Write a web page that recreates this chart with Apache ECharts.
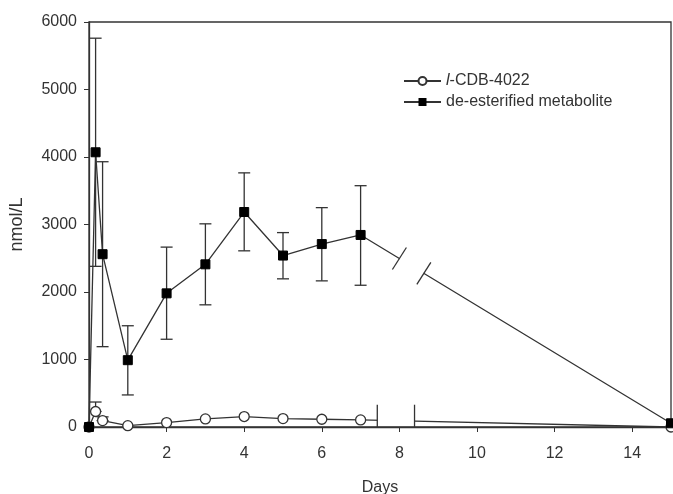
<!DOCTYPE html>
<html>
<head>
<meta charset="utf-8">
<script src="https://cdn.jsdelivr.net/npm/echarts@6/dist/echarts.min.js"></script>
<style>
  html, body { margin: 0; padding: 0; background: #fff; }
  #chart { width: 673px; height: 494px; }
</style>
</head>
<body>
<div id="chart"></div>
<script>
// sampling times (days)
const days = [0, 0.17, 0.35, 1, 2, 3, 4, 5, 6, 7, 15];

// de-esterified metabolite (nmol/L), mean and error bar ends
const metab   = [0, 4070, 2560, 990, 1980, 2410, 3185, 2540, 2710, 2845, 55];
const metabHi = [null, 5760, 3930, 1500, 2665, 3010, 3765, 2880, 3250, 3575, null];
const metabLo = [null, 2380, 1190, 475, 1300, 1810, 2610, 2195, 2165, 2100, null];

// l-CDB-4022 (nmol/L)
const parent   = [0, 230, 95, 20, 65, 120, 155, 125, 115, 105, 0];
const parentHi = [null, 370, 150, null, null, null, null, null, null, null, null];

const xTicks = [0, 2, 4, 6, 8, 10, 12, 14];

// axis break positions (days) drawn on the 7 -> 15 segment
const breakMetab = [8.0, 8.63];
const breakParent = [7.43, 8.39];

const parentName = 'l-CDB-4022';
const metabName = 'de-esterified metabolite';
const ink = '#333';
const font = 'Liberation Sans, Arial, sans-serif';

function pairs(ys) {
    return days.map(function (d, i) { return [d, ys[i]]; });
}
function errData(lo, hi, mid) {
    const out = [];
    days.forEach(function (d, i) {
        if (hi[i] != null) {
            out.push([d, lo ? (lo[i] != null ? lo[i] : mid[i]) : mid[i], hi[i]]);
        }
    });
    return out;
}

function renderErr(params, api) {
    const x = api.value(0);
    const lo = api.coord([x, api.value(1)]);
    const hi = api.coord([x, api.value(2)]);
    const cap = 6;
    const st = { stroke: ink, lineWidth: 1.3 };
    return {
        type: 'group',
        children: [
            { type: 'line', shape: { x1: lo[0], y1: lo[1], x2: hi[0], y2: hi[1] }, style: st },
            { type: 'line', shape: { x1: hi[0] - cap, y1: hi[1], x2: hi[0] + cap, y2: hi[1] }, style: st },
            { type: 'line', shape: { x1: lo[0] - cap, y1: lo[1], x2: lo[0] + cap, y2: lo[1] }, style: st }
        ]
    };
}

// point on the 7 -> 15 segment of a series at day d
function onSeg(ys, d) {
    const i = days.length - 2, j = days.length - 1;
    const t = (d - days[i]) / (days[j] - days[i]);
    return [d, ys[i] + (ys[j] - ys[i]) * t];
}

function renderBreaks(params, api) {
    const st = { stroke: ink, lineWidth: 1.3 };
    const children = [];
    // metabolite line: gap + slashes
    const a = api.coord(onSeg(metab, breakMetab[0]));
    const b = api.coord(onSeg(metab, breakMetab[1]));
    children.push({ type: 'rect', shape: { x: a[0], y: a[1] - 4, width: b[0] - a[0], height: b[1] - a[1] + 8 }, style: { fill: '#fff' } });
    [a, b].forEach(function (p) {
        children.push({ type: 'line', shape: { x1: p[0] - 7, y1: p[1] + 11, x2: p[0] + 7, y2: p[1] - 11 }, style: st });
    });
    // parent line: gap + vertical bars
    const c = api.coord(onSeg(parent, breakParent[0]));
    const e = api.coord(onSeg(parent, breakParent[1]));
    const base0 = api.coord([breakParent[0], 0]);
    const top0 = api.coord([breakParent[0], 330]);
    children.push({ type: 'rect', shape: { x: c[0], y: c[1] - 5, width: e[0] - c[0], height: 8 }, style: { fill: '#fff' } });
    [c, e].forEach(function (p) {
        children.push({ type: 'line', shape: { x1: p[0], y1: top0[1], x2: p[0], y2: base0[1] }, style: st });
    });
    return { type: 'group', children: children };
}

const chart = echarts.init(document.getElementById('chart'));
chart.setOption({
    animation: false,
    textStyle: { fontFamily: font },
    grid: {
        left: 89, right: 2, top: 22, bottom: 67,
        outerBoundsMode: 'none', containLabel: false,
        show: true, borderColor: ink, borderWidth: 1.3
    },
    legend: {
        orient: 'vertical',
        left: 403, top: 73, padding: 0,
        itemWidth: 37, itemHeight: 10, itemGap: 5,
        data: [parentName, metabName],
        formatter: function (name) {
            return name === parentName ? '{i|l}{n|-CDB-4022}' : name;
        },
        textStyle: {
            fontFamily: font, fontSize: 16, color: ink,
            rich: {
                i: { fontFamily: font, fontSize: 16, color: ink, fontStyle: 'italic' },
                n: { fontFamily: font, fontSize: 16, color: ink }
            }
        }
    },
    xAxis: {
        type: 'value', min: 0, max: 15,
        name: 'Days', nameLocation: 'middle', nameGap: 53,
        nameTextStyle: { fontFamily: font, fontSize: 16, color: ink },
        axisLine: { lineStyle: { color: ink, width: 1.3 } },
        axisTick: { show: true, length: 5, customValues: xTicks, lineStyle: { color: ink } },
        axisLabel: { customValues: xTicks, margin: 19, fontSize: 16, color: ink, fontFamily: font },
        splitLine: { show: false }
    },
    yAxis: {
        type: 'value', min: 0, max: 6000, interval: 1000,
        name: 'nmol/L', nameLocation: 'middle', nameGap: 63,
        nameTextStyle: { fontFamily: font, fontSize: 18, color: ink },
        axisLine: { show: true, lineStyle: { color: ink, width: 1.3 } },
        axisTick: { show: true, length: 5, lineStyle: { color: ink } },
        axisLabel: {
            margin: 12, fontSize: 16, color: ink, fontFamily: font,
            formatter: function (v) { return String(v); }
        },
        splitLine: { show: false }
    },
    series: [
        {
            name: metabName + ' err', type: 'custom', renderItem: renderErr,
            data: errData(metabLo, metabHi, metab), z: 1, silent: true
        },
        {
            name: parentName + ' err', type: 'custom', renderItem: renderErr,
            data: errData(null, parentHi, parent), z: 1, silent: true
        },
        {
            name: parentName, type: 'line', data: pairs(parent),
            symbol: 'circle', symbolSize: 10,
            lineStyle: { color: ink, width: 1.3 },
            itemStyle: { color: '#fff', borderColor: ink, borderWidth: 1.3 },
            z: 3
        },
        {
            name: metabName, type: 'line', data: pairs(metab),
            symbol: 'rect', symbolSize: 9,
            lineStyle: { color: ink, width: 1.3 },
            itemStyle: { color: '#000', borderColor: '#000' },
            z: 4
        },
        {
            name: 'breaks', type: 'custom', renderItem: renderBreaks,
            data: [[0]], z: 6, silent: true
        }
    ]
});

window.addEventListener('resize', function () {
    chart.resize();
});
</script>
</body>
</html>
